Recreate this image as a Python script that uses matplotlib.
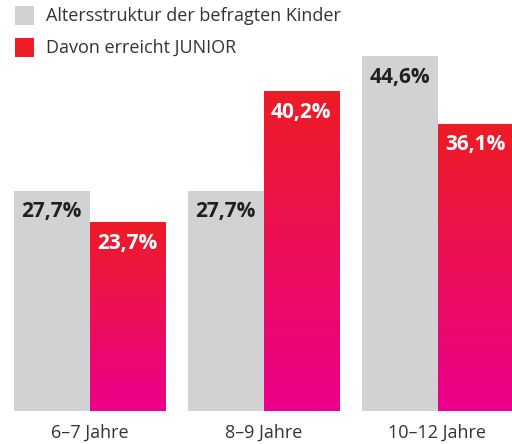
import numpy as np
import matplotlib
matplotlib.use('Agg')
import matplotlib.pyplot as plt
from matplotlib.colors import LinearSegmentedColormap
from matplotlib.patches import Rectangle

plt.rcParams['font.family'] = ['Open Sans', 'DejaVu Sans']

categories = ['6–7 Jahre', '8–9 Jahre', '10–12 Jahre']
alter = [27.7, 27.7, 44.6]
junior = [23.7, 40.2, 36.1]
series_names = ['Altersstruktur der befragten Kinder', 'Davon erreicht JUNIOR']

grey = '#D1D2D4'
red_top = '#EE1C25'
magenta = '#EC008C'
grad = LinearSegmentedColormap.from_list('redmag', [magenta, red_top])

W, H = 512, 444
fig = plt.figure(figsize=(W / 100, H / 100), dpi=100)
ax = fig.add_axes([0, 33 / H, 1, 397.5 / H])

w = 0.434
x = np.arange(len(categories))

ax.bar(x - w / 2, alter, width=w, color=grey, linewidth=0)
bars = ax.bar(x + w / 2, junior, width=w, color='none', linewidth=0)

# per-bar gradient, red at the top to magenta at the bottom
for b in bars:
    x0, y0 = b.get_x(), b.get_y()
    x1, y1 = x0 + b.get_width(), y0 + b.get_height()
    g = np.linspace(0, 1, 256).reshape(-1, 1)
    ax.imshow(g, cmap=grad, origin='lower', aspect='auto',
              extent=[x0, x1, y0, y1], zorder=2)

def fmt(v):
    return f'{v:.1f}%'.replace('.', ',')

for xi, v in zip(x, alter):
    ax.text(xi - w / 2, v - 2.6, fmt(v), ha='center', va='center',
            fontsize=15, fontweight='bold', color='#231F20', zorder=3)
for xi, v in zip(x, junior):
    ax.text(xi + w / 2, v - 2.6, fmt(v), ha='center', va='center',
            fontsize=15, fontweight='bold', color='white', zorder=3)

for xi, c in zip(x, categories):
    ax.text(xi, -2.7, c, ha='center', va='center', fontsize=13,
            color='#333333', clip_on=False)

ax.set_xlim(-89.5 / 174, (512 - 89.5) / 174)
ax.set_ylim(0, 50)
ax.axis('off')

# legend drawn by hand: square swatch + label
for i, (name, col) in enumerate(zip(series_names, [grey, red_top])):
    yc = 16 + 32 * i
    fig.patches.append(Rectangle((15 / W, 1 - (yc + 9.5) / H), 19 / W, 19 / H,
                                 transform=fig.transFigure, facecolor=col,
                                 edgecolor='none'))
    fig.text(46 / W, 1 - yc / H, name, ha='left', va='center', fontsize=13,
             color='#333333')

plt.savefig('out.png', dpi=100)
